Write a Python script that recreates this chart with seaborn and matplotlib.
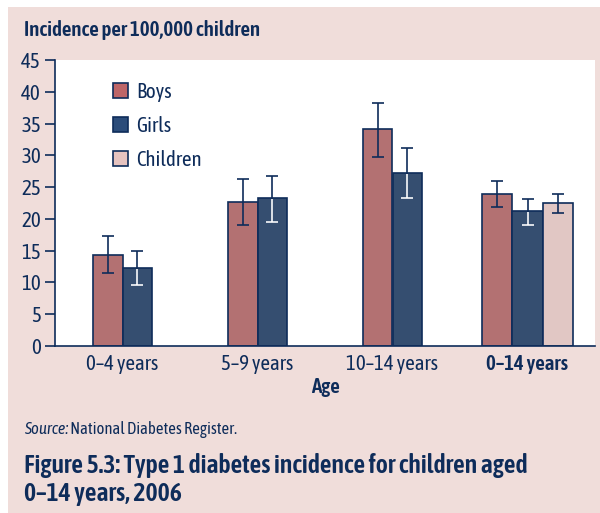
import matplotlib.pyplot as plt
import seaborn as sns
import pandas as pd
import numpy as np
from matplotlib.patches import Rectangle, Patch

# data
ages = ["0–4 years", "5–9 years", "10–14 years", "0–14 years"]
boys = [14.3, 22.7, 34.1, 23.9]
boys_lo = [11.5, 19.1, 29.8, 21.8]
boys_hi = [17.3, 26.2, 38.2, 26.0]
girls = [12.3, 23.3, 27.2, 21.2]
girls_lo = [9.6, 19.5, 23.3, 19.0]
girls_hi = [14.9, 26.8, 31.1, 23.1]
# children (all) only shown for the total group
children = [22.5]
children_lo = [21.0]
children_hi = [23.9]

navy = "#0E2C5A"
pink_bg = "#F0DDDA"
colors = {"Boys": "#BE6668", "Girls": "#2B4C7A", "Children": "#E6C3BF"}

rows = []
for i, age in enumerate(ages):
    rows.append([age, "Boys", boys[i], boys_lo[i], boys_hi[i]])
    rows.append([age, "Girls", girls[i], girls_lo[i], girls_hi[i]])
rows.append([ages[3], "Children", children[0], children_lo[0], children_hi[0]])
df = pd.DataFrame(rows, columns=["age", "group", "value", "lo", "hi"])

sns.set_theme(style="white")
plt.rcParams['font.family'] = ['Asap Condensed', 'DejaVu Sans']

fig = plt.figure(figsize=(6, 5.13), dpi=100)
fig.patches.append(Rectangle((8 / 600, 0), 592 / 600, 506 / 513, transform=fig.transFigure,
                             facecolor=pink_bg, edgecolor="none", zorder=-10))
ax = fig.add_axes([55 / 600, 1 - 346 / 513, 540 / 600, 286 / 513])
ax.set_facecolor("white")

df_split = df[df["age"] != ages[3]]
df_total = df[df["age"] == ages[3]]

sns.barplot(data=df_split, x="age", y="value", hue="group", order=ages,
            hue_order=["Boys", "Girls"], palette=colors, width=0.444,
            edgecolor=navy, linewidth=1.2, errorbar=None, legend=False, ax=ax)
sns.barplot(data=df_total, x="age", y="value", hue="group", order=ages,
            hue_order=["Boys", "Girls", "Children"], palette=colors, width=0.667,
            edgecolor=navy, linewidth=1.2, errorbar=None, legend=False, ax=ax)

# error bars, matched to bars by height
for p in ax.patches:
    h = p.get_height()
    xc = p.get_x() + p.get_width() / 2
    row = df[np.isclose(df["value"], h)].iloc[0]
    ax.errorbar(xc, h, yerr=[[h - row["lo"]], [row["hi"] - h]], color=navy,
                capsize=4, elinewidth=1.2, capthick=1.2, zorder=5)
    if row["group"] == "Girls":
        ax.vlines(xc, row["lo"], h - 0.15, color="white", lw=1.2, zorder=6)
        ax.plot([xc], [row["lo"]], marker="_", ms=8, mew=1.2, color="white", zorder=6)

ax.set_ylim(0, 45)
ax.set_xlim(-0.5, 3.5)
ax.set_yticks(range(0, 46, 5))
for s in ["top", "right"]:
    ax.spines[s].set_visible(False)
for s in ["left", "bottom"]:
    ax.spines[s].set_color(navy)
    ax.spines[s].set_linewidth(1.2)
ax.tick_params(axis="y", length=7, width=1.2, color=navy, labelcolor=navy,
               labelsize=15, pad=3, left=True)
ax.tick_params(axis="x", length=0, labelcolor=navy, labelsize=15, pad=6)
ax.get_xticklabels()[3].set_fontweight("semibold")
ax.set_ylabel("")
ax.set_xlabel("Age", fontsize=15, fontweight="semibold", color=navy, labelpad=2)

handles = [Patch(facecolor=colors[g], edgecolor=navy, linewidth=1.2) for g in colors]
leg = ax.legend(handles, list(colors), loc="upper left", bbox_to_anchor=(0.072, 0.99),
                frameon=False, fontsize=15, labelcolor=navy, handlelength=0.75,
                handleheight=0.75, labelspacing=0.68, handletextpad=0.4)

fig.text(24 / 600, 1 - 30 / 513, "Incidence per 100,000 children", fontsize=15,
         fontweight="semibold", color=navy, va="center")
t1 = fig.text(24 / 600, 1 - 430 / 513, "Source:", fontsize=12, style="italic",
              color=navy, va="center")
ax.annotate(" National Diabetes Register.", xy=(1, 0), xycoords=t1, va="bottom",
            fontsize=12, color=navy, annotation_clip=False)
fig.text(24 / 600, 1 - 465 / 513, "Figure 5.3: Type 1 diabetes incidence for children aged",
         fontsize=18.5, fontweight="semibold", color=navy, va="center")
fig.text(24 / 600, 1 - 493 / 513, "0–14 years, 2006",
         fontsize=18.5, fontweight="semibold", color=navy, va="center")

plt.savefig("out.png", dpi=100, facecolor="white")
plt.close()
